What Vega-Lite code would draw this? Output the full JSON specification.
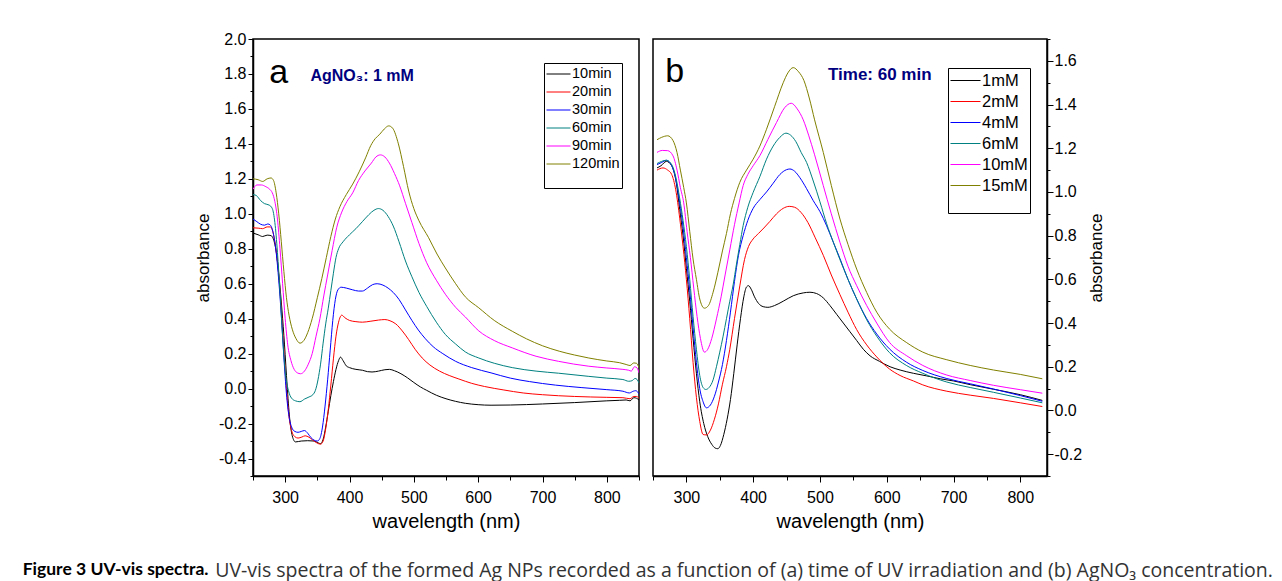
{
"$schema": "https://vega.github.io/schema/vega-lite/v6.json",
"background": "white",
"padding": {"left": 22, "top": 30, "right": 5, "bottom": 5},
"config": {
 "font": "Liberation Sans",
 "view": {"stroke": "black", "strokeWidth": 1.5},
 "axis": {"domainColor": "black", "domainWidth": 1.5, "tickColor": "black", "tickWidth": 1, "labelColor": "black", "titleColor": "black", "grid": false, "labelFont": "Liberation Sans", "titleFont": "Liberation Sans", "labelFontSize": 16, "titleFontWeight": "normal", "labelOverlap": false, "labelFlush": false}
},
"title": {"text": "Figure 3 UV-vis spectra.", "subtitle": "\u200b\u00a0\u00a0\u00a0\u00a0\u00a0\u00a0\u00a0\u00a0\u00a0\u00a0\u00a0\u00a0\u00a0\u00a0\u00a0\u00a0\u00a0\u00a0\u00a0\u00a0\u00a0\u00a0\u00a0\u00a0\u00a0\u00a0\u00a0\u00a0\u00a0\u00a0\u00a0\u00a0\u00a0\u00a0\u00a0\u00a0\u00a0\u00a0UV-vis spectra of the formed Ag NPs recorded as a function of (a) time of UV irradiation and (b) AgNO\u2083 concentration.", "orient": "bottom", "anchor": "start", "frame": "bounds", "font": "Lato", "fontSize": 17.5, "fontWeight": "bold", "color": "black", "subtitleFont": "Open Sans", "subtitleFontSize": 19.5, "subtitleFontWeight": "normal", "subtitleColor": "#333333", "subtitlePadding": -16, "offset": 29, "dx": -171},
"spacing": 10,
"resolve": {"scale": {"color": "independent"}, "legend": {"color": "independent"}},
"hconcat": [
 {
  "width": 386, "height": 437,
  "encoding": {
   "x": {"field": "w", "type": "quantitative", "scale": {"domain": [250, 850], "nice": false, "zero": false},
     "axis": {"title": "wavelength (nm)", "titleFontSize": 20, "values": [250,300,350,400,450,500,550,600,650,700,750,800,850], "labelExpr": "datum.value % 100 === 0 ? format(datum.value, 'd') : ''", "tickSize": {"condition": {"test": "datum.value % 100 === 0", "value": 6}, "value": 4}, "labelPadding": 7, "titlePadding": 6}},
   "y": {"field": "v", "type": "quantitative", "scale": {"domain": [-0.5, 2.0], "nice": false, "zero": false},
     "axis": {"title": "absorbance", "titleFontSize": 17, "values": [-0.5,-0.4,-0.3,-0.2,-0.1,0,0.1,0.2,0.3,0.4,0.5,0.6,0.7,0.8,0.9,1.0,1.1,1.2,1.3,1.4,1.5,1.6,1.7,1.8,1.9,2.0], "labelExpr": "round(datum.value*10) % 2 === 0 ? ((datum.value < -0.001 ? '-' : '') + format(abs(datum.value), '.1f')) : ''", "tickSize": {"condition": {"test": "round(datum.value*10) % 2 === 0", "value": 5}, "value": 3}, "labelPadding": 2, "titlePadding": 6}}
  },
  "layer": [
   {
    "data": {"values": [
{"w":250,"v":0.89,"s":"10min"},{"w":258,"v":0.88,"s":"10min"},{"w":265,"v":0.87,"s":"10min"},{"w":272,"v":0.878,"s":"10min"},{"w":278,"v":0.875,"s":"10min"},{"w":283,"v":0.84,"s":"10min"},{"w":287,"v":0.76,"s":"10min"},{"w":291,"v":0.62,"s":"10min"},{"w":295,"v":0.45,"s":"10min"},{"w":299,"v":0.25,"s":"10min"},{"w":303,"v":0.02,"s":"10min"},{"w":307,"v":-0.17,"s":"10min"},{"w":311,"v":-0.27,"s":"10min"},{"w":316,"v":-0.305,"s":"10min"},{"w":325,"v":-0.3,"s":"10min"},{"w":335,"v":-0.298,"s":"10min"},{"w":345,"v":-0.3,"s":"10min"},{"w":351,"v":-0.31,"s":"10min"},{"w":355,"v":-0.315,"s":"10min"},{"w":359,"v":-0.29,"s":"10min"},{"w":363,"v":-0.22,"s":"10min"},{"w":367,"v":-0.13,"s":"10min"},{"w":371,"v":-0.04,"s":"10min"},{"w":375,"v":0.04,"s":"10min"},{"w":379,"v":0.11,"s":"10min"},{"w":383,"v":0.16,"s":"10min"},{"w":386,"v":0.18,"s":"10min"},{"w":390,"v":0.16,"s":"10min"},{"w":395,"v":0.13,"s":"10min"},{"w":400,"v":0.12,"s":"10min"},{"w":410,"v":0.11,"s":"10min"},{"w":420,"v":0.105,"s":"10min"},{"w":428,"v":0.097,"s":"10min"},{"w":435,"v":0.095,"s":"10min"},{"w":445,"v":0.1,"s":"10min"},{"w":455,"v":0.108,"s":"10min"},{"w":462,"v":0.11,"s":"10min"},{"w":470,"v":0.102,"s":"10min"},{"w":480,"v":0.085,"s":"10min"},{"w":490,"v":0.062,"s":"10min"},{"w":500,"v":0.035,"s":"10min"},{"w":510,"v":0.01,"s":"10min"},{"w":520,"v":-0.01,"s":"10min"},{"w":535,"v":-0.038,"s":"10min"},{"w":550,"v":-0.058,"s":"10min"},{"w":565,"v":-0.073,"s":"10min"},{"w":580,"v":-0.084,"s":"10min"},{"w":600,"v":-0.092,"s":"10min"},{"w":620,"v":-0.095,"s":"10min"},{"w":650,"v":-0.094,"s":"10min"},{"w":700,"v":-0.088,"s":"10min"},{"w":750,"v":-0.08,"s":"10min"},{"w":800,"v":-0.07,"s":"10min"},{"w":820,"v":-0.067,"s":"10min"},{"w":830,"v":-0.065,"s":"10min"},{"w":836,"v":-0.07,"s":"10min"},{"w":842,"v":-0.052,"s":"10min"},{"w":846,"v":-0.055,"s":"10min"},{"w":850,"v":-0.065,"s":"10min"},
{"w":250,"v":0.92,"s":"20min"},{"w":258,"v":0.918,"s":"20min"},{"w":265,"v":0.915,"s":"20min"},{"w":272,"v":0.925,"s":"20min"},{"w":277,"v":0.925,"s":"20min"},{"w":282,"v":0.88,"s":"20min"},{"w":286,"v":0.79,"s":"20min"},{"w":290,"v":0.65,"s":"20min"},{"w":294,"v":0.45,"s":"20min"},{"w":298,"v":0.22,"s":"20min"},{"w":302,"v":0.0,"s":"20min"},{"w":306,"v":-0.16,"s":"20min"},{"w":310,"v":-0.24,"s":"20min"},{"w":315,"v":-0.275,"s":"20min"},{"w":320,"v":-0.283,"s":"20min"},{"w":326,"v":-0.277,"s":"20min"},{"w":331,"v":-0.27,"s":"20min"},{"w":337,"v":-0.278,"s":"20min"},{"w":343,"v":-0.295,"s":"20min"},{"w":349,"v":-0.31,"s":"20min"},{"w":355,"v":-0.318,"s":"20min"},{"w":359,"v":-0.3,"s":"20min"},{"w":363,"v":-0.23,"s":"20min"},{"w":367,"v":-0.12,"s":"20min"},{"w":371,"v":0.02,"s":"20min"},{"w":375,"v":0.17,"s":"20min"},{"w":379,"v":0.3,"s":"20min"},{"w":383,"v":0.38,"s":"20min"},{"w":388,"v":0.42,"s":"20min"},{"w":393,"v":0.405,"s":"20min"},{"w":400,"v":0.39,"s":"20min"},{"w":410,"v":0.383,"s":"20min"},{"w":420,"v":0.38,"s":"20min"},{"w":432,"v":0.385,"s":"20min"},{"w":445,"v":0.392,"s":"20min"},{"w":455,"v":0.395,"s":"20min"},{"w":463,"v":0.388,"s":"20min"},{"w":472,"v":0.37,"s":"20min"},{"w":482,"v":0.33,"s":"20min"},{"w":492,"v":0.28,"s":"20min"},{"w":502,"v":0.225,"s":"20min"},{"w":513,"v":0.175,"s":"20min"},{"w":525,"v":0.135,"s":"20min"},{"w":540,"v":0.1,"s":"20min"},{"w":555,"v":0.075,"s":"20min"},{"w":570,"v":0.055,"s":"20min"},{"w":590,"v":0.03,"s":"20min"},{"w":610,"v":0.012,"s":"20min"},{"w":640,"v":-0.008,"s":"20min"},{"w":670,"v":-0.025,"s":"20min"},{"w":700,"v":-0.035,"s":"20min"},{"w":750,"v":-0.045,"s":"20min"},{"w":800,"v":-0.05,"s":"20min"},{"w":825,"v":-0.052,"s":"20min"},{"w":836,"v":-0.058,"s":"20min"},{"w":842,"v":-0.045,"s":"20min"},{"w":846,"v":-0.045,"s":"20min"},{"w":850,"v":-0.055,"s":"20min"},
{"w":250,"v":0.97,"s":"30min"},{"w":256,"v":0.955,"s":"30min"},{"w":262,"v":0.94,"s":"30min"},{"w":268,"v":0.935,"s":"30min"},{"w":273,"v":0.942,"s":"30min"},{"w":277,"v":0.935,"s":"30min"},{"w":282,"v":0.88,"s":"30min"},{"w":286,"v":0.78,"s":"30min"},{"w":290,"v":0.62,"s":"30min"},{"w":294,"v":0.42,"s":"30min"},{"w":298,"v":0.18,"s":"30min"},{"w":302,"v":-0.03,"s":"30min"},{"w":306,"v":-0.16,"s":"30min"},{"w":310,"v":-0.22,"s":"30min"},{"w":315,"v":-0.245,"s":"30min"},{"w":320,"v":-0.25,"s":"30min"},{"w":325,"v":-0.245,"s":"30min"},{"w":330,"v":-0.24,"s":"30min"},{"w":335,"v":-0.255,"s":"30min"},{"w":340,"v":-0.28,"s":"30min"},{"w":345,"v":-0.295,"s":"30min"},{"w":350,"v":-0.3,"s":"30min"},{"w":354,"v":-0.285,"s":"30min"},{"w":358,"v":-0.22,"s":"30min"},{"w":362,"v":-0.1,"s":"30min"},{"w":366,"v":0.05,"s":"30min"},{"w":370,"v":0.22,"s":"30min"},{"w":374,"v":0.39,"s":"30min"},{"w":378,"v":0.51,"s":"30min"},{"w":382,"v":0.565,"s":"30min"},{"w":387,"v":0.58,"s":"30min"},{"w":395,"v":0.575,"s":"30min"},{"w":405,"v":0.565,"s":"30min"},{"w":414,"v":0.558,"s":"30min"},{"w":420,"v":0.558,"s":"30min"},{"w":428,"v":0.575,"s":"30min"},{"w":436,"v":0.595,"s":"30min"},{"w":443,"v":0.6,"s":"30min"},{"w":452,"v":0.592,"s":"30min"},{"w":460,"v":0.575,"s":"30min"},{"w":468,"v":0.55,"s":"30min"},{"w":477,"v":0.51,"s":"30min"},{"w":487,"v":0.45,"s":"30min"},{"w":497,"v":0.39,"s":"30min"},{"w":507,"v":0.335,"s":"30min"},{"w":518,"v":0.285,"s":"30min"},{"w":530,"v":0.24,"s":"30min"},{"w":545,"v":0.2,"s":"30min"},{"w":565,"v":0.156,"s":"30min"},{"w":590,"v":0.12,"s":"30min"},{"w":620,"v":0.09,"s":"30min"},{"w":650,"v":0.06,"s":"30min"},{"w":680,"v":0.04,"s":"30min"},{"w":720,"v":0.02,"s":"30min"},{"w":760,"v":0.006,"s":"30min"},{"w":800,"v":-0.006,"s":"30min"},{"w":825,"v":-0.015,"s":"30min"},{"w":835,"v":-0.025,"s":"30min"},{"w":841,"v":-0.015,"s":"30min"},{"w":845,"v":-0.012,"s":"30min"},{"w":850,"v":-0.03,"s":"30min"},
{"w":250,"v":1.11,"s":"60min"},{"w":255,"v":1.105,"s":"60min"},{"w":262,"v":1.075,"s":"60min"},{"w":268,"v":1.058,"s":"60min"},{"w":275,"v":1.05,"s":"60min"},{"w":280,"v":1.03,"s":"60min"},{"w":284,"v":0.95,"s":"60min"},{"w":288,"v":0.78,"s":"60min"},{"w":292,"v":0.55,"s":"60min"},{"w":296,"v":0.3,"s":"60min"},{"w":300,"v":0.1,"s":"60min"},{"w":305,"v":-0.01,"s":"60min"},{"w":310,"v":-0.055,"s":"60min"},{"w":316,"v":-0.07,"s":"60min"},{"w":323,"v":-0.075,"s":"60min"},{"w":330,"v":-0.06,"s":"60min"},{"w":337,"v":-0.048,"s":"60min"},{"w":343,"v":-0.035,"s":"60min"},{"w":347,"v":-0.01,"s":"60min"},{"w":351,"v":0.05,"s":"60min"},{"w":355,"v":0.14,"s":"60min"},{"w":359,"v":0.26,"s":"60min"},{"w":363,"v":0.37,"s":"60min"},{"w":367,"v":0.46,"s":"60min"},{"w":371,"v":0.56,"s":"60min"},{"w":375,"v":0.66,"s":"60min"},{"w":379,"v":0.75,"s":"60min"},{"w":383,"v":0.8,"s":"60min"},{"w":390,"v":0.84,"s":"60min"},{"w":400,"v":0.88,"s":"60min"},{"w":410,"v":0.915,"s":"60min"},{"w":420,"v":0.955,"s":"60min"},{"w":430,"v":0.995,"s":"60min"},{"w":438,"v":1.02,"s":"60min"},{"w":445,"v":1.03,"s":"60min"},{"w":452,"v":1.02,"s":"60min"},{"w":460,"v":0.985,"s":"60min"},{"w":468,"v":0.93,"s":"60min"},{"w":477,"v":0.84,"s":"60min"},{"w":487,"v":0.73,"s":"60min"},{"w":497,"v":0.64,"s":"60min"},{"w":508,"v":0.55,"s":"60min"},{"w":520,"v":0.47,"s":"60min"},{"w":535,"v":0.38,"s":"60min"},{"w":549,"v":0.31,"s":"60min"},{"w":565,"v":0.255,"s":"60min"},{"w":580,"v":0.21,"s":"60min"},{"w":601,"v":0.175,"s":"60min"},{"w":625,"v":0.145,"s":"60min"},{"w":653,"v":0.12,"s":"60min"},{"w":690,"v":0.1,"s":"60min"},{"w":725,"v":0.088,"s":"60min"},{"w":772,"v":0.07,"s":"60min"},{"w":800,"v":0.06,"s":"60min"},{"w":825,"v":0.052,"s":"60min"},{"w":834,"v":0.042,"s":"60min"},{"w":839,"v":0.045,"s":"60min"},{"w":844,"v":0.058,"s":"60min"},{"w":847,"v":0.052,"s":"60min"},{"w":850,"v":0.032,"s":"60min"},
{"w":250,"v":1.14,"s":"90min"},{"w":256,"v":1.165,"s":"90min"},{"w":263,"v":1.165,"s":"90min"},{"w":270,"v":1.155,"s":"90min"},{"w":276,"v":1.14,"s":"90min"},{"w":280,"v":1.12,"s":"90min"},{"w":284,"v":1.07,"s":"90min"},{"w":288,"v":0.97,"s":"90min"},{"w":292,"v":0.8,"s":"90min"},{"w":296,"v":0.6,"s":"90min"},{"w":300,"v":0.4,"s":"90min"},{"w":304,"v":0.25,"s":"90min"},{"w":309,"v":0.16,"s":"90min"},{"w":314,"v":0.11,"s":"90min"},{"w":319,"v":0.09,"s":"90min"},{"w":324,"v":0.085,"s":"90min"},{"w":330,"v":0.1,"s":"90min"},{"w":336,"v":0.14,"s":"90min"},{"w":342,"v":0.2,"s":"90min"},{"w":348,"v":0.3,"s":"90min"},{"w":354,"v":0.4,"s":"90min"},{"w":360,"v":0.53,"s":"90min"},{"w":366,"v":0.65,"s":"90min"},{"w":373,"v":0.79,"s":"90min"},{"w":380,"v":0.92,"s":"90min"},{"w":388,"v":1.01,"s":"90min"},{"w":396,"v":1.07,"s":"90min"},{"w":405,"v":1.12,"s":"90min"},{"w":414,"v":1.19,"s":"90min"},{"w":424,"v":1.245,"s":"90min"},{"w":434,"v":1.29,"s":"90min"},{"w":441,"v":1.325,"s":"90min"},{"w":448,"v":1.337,"s":"90min"},{"w":455,"v":1.325,"s":"90min"},{"w":462,"v":1.29,"s":"90min"},{"w":470,"v":1.23,"s":"90min"},{"w":478,"v":1.16,"s":"90min"},{"w":487,"v":1.06,"s":"90min"},{"w":497,"v":0.95,"s":"90min"},{"w":508,"v":0.83,"s":"90min"},{"w":520,"v":0.72,"s":"90min"},{"w":535,"v":0.62,"s":"90min"},{"w":549,"v":0.54,"s":"90min"},{"w":565,"v":0.465,"s":"90min"},{"w":580,"v":0.41,"s":"90min"},{"w":601,"v":0.33,"s":"90min"},{"w":625,"v":0.275,"s":"90min"},{"w":653,"v":0.233,"s":"90min"},{"w":690,"v":0.185,"s":"90min"},{"w":725,"v":0.156,"s":"90min"},{"w":772,"v":0.128,"s":"90min"},{"w":800,"v":0.118,"s":"90min"},{"w":825,"v":0.11,"s":"90min"},{"w":834,"v":0.105,"s":"90min"},{"w":838,"v":0.1,"s":"90min"},{"w":843,"v":0.125,"s":"90min"},{"w":847,"v":0.118,"s":"90min"},{"w":850,"v":0.09,"s":"90min"},
{"w":250,"v":1.2,"s":"120min"},{"w":258,"v":1.195,"s":"120min"},{"w":265,"v":1.185,"s":"120min"},{"w":272,"v":1.2,"s":"120min"},{"w":278,"v":1.205,"s":"120min"},{"w":282,"v":1.19,"s":"120min"},{"w":286,"v":1.12,"s":"120min"},{"w":290,"v":1.0,"s":"120min"},{"w":294,"v":0.84,"s":"120min"},{"w":298,"v":0.67,"s":"120min"},{"w":302,"v":0.52,"s":"120min"},{"w":306,"v":0.42,"s":"120min"},{"w":311,"v":0.34,"s":"120min"},{"w":317,"v":0.285,"s":"120min"},{"w":323,"v":0.26,"s":"120min"},{"w":329,"v":0.275,"s":"120min"},{"w":335,"v":0.32,"s":"120min"},{"w":342,"v":0.4,"s":"120min"},{"w":350,"v":0.52,"s":"120min"},{"w":357,"v":0.63,"s":"120min"},{"w":364,"v":0.75,"s":"120min"},{"w":371,"v":0.87,"s":"120min"},{"w":378,"v":0.97,"s":"120min"},{"w":385,"v":1.04,"s":"120min"},{"w":395,"v":1.11,"s":"120min"},{"w":405,"v":1.17,"s":"120min"},{"w":415,"v":1.24,"s":"120min"},{"w":425,"v":1.32,"s":"120min"},{"w":433,"v":1.39,"s":"120min"},{"w":440,"v":1.43,"s":"120min"},{"w":447,"v":1.455,"s":"120min"},{"w":454,"v":1.485,"s":"120min"},{"w":461,"v":1.503,"s":"120min"},{"w":467,"v":1.49,"s":"120min"},{"w":476,"v":1.4,"s":"120min"},{"w":484,"v":1.27,"s":"120min"},{"w":492,"v":1.13,"s":"120min"},{"w":500,"v":1.03,"s":"120min"},{"w":508,"v":0.96,"s":"120min"},{"w":523,"v":0.863,"s":"120min"},{"w":536,"v":0.77,"s":"120min"},{"w":549,"v":0.69,"s":"120min"},{"w":565,"v":0.6,"s":"120min"},{"w":580,"v":0.525,"s":"120min"},{"w":601,"v":0.462,"s":"120min"},{"w":625,"v":0.39,"s":"120min"},{"w":653,"v":0.328,"s":"120min"},{"w":675,"v":0.285,"s":"120min"},{"w":700,"v":0.245,"s":"120min"},{"w":726,"v":0.214,"s":"120min"},{"w":750,"v":0.192,"s":"120min"},{"w":772,"v":0.175,"s":"120min"},{"w":800,"v":0.158,"s":"120min"},{"w":820,"v":0.148,"s":"120min"},{"w":830,"v":0.138,"s":"120min"},{"w":836,"v":0.132,"s":"120min"},{"w":842,"v":0.147,"s":"120min"},{"w":846,"v":0.145,"s":"120min"},{"w":850,"v":0.12,"s":"120min"}
    ]},
    "mark": {"type": "line", "strokeWidth": 1, "interpolate": "monotone", "clip": true},
    "encoding": {
     "color": {"field": "s", "type": "nominal", "scale": {"domain": ["10min","20min","30min","60min","90min","120min"], "range": ["#000000","#ff0000","#0000ff","#008080","#ff00ff","#808000"]},
       "legend": {"orient": "none", "legendX": 291, "legendY": 24, "title": " ", "titleOrient": "bottom", "titleFontSize": 12.5, "titlePadding": 0, "symbolType": "stroke", "symbolSize": 576, "symbolStrokeWidth": 1, "labelFontSize": 14.5, "labelFont": "Liberation Sans", "labelColor": "black", "labelOffset": 1, "strokeColor": "black", "padding": 2, "rowPadding": 0, "clipHeight": 18}}
    }
   },
   {
    "data": {"values": [{"w": 290, "v": 1.751, "t": "a"}]},
    "mark": {"type": "text", "align": "center", "baseline": "alphabetic", "fontSize": 34, "color": "black", "font": "Liberation Sans"},
    "encoding": {"text": {"field": "t"}}
   },
   {
    "data": {"values": [{"w": 339.3, "v": 1.761, "t": "AgNO\u2083: 1 mM"}]},
    "mark": {"type": "text", "align": "left", "baseline": "alphabetic", "fontSize": 16, "fontWeight": "bold", "color": "#000080", "font": "Liberation Sans"},
    "encoding": {"text": {"field": "t"}}
   }
  ]
 },
 {
  "width": 394, "height": 437,
  "encoding": {
   "x": {"field": "w", "type": "quantitative", "scale": {"domain": [250, 840], "nice": false, "zero": false},
     "axis": {"title": "wavelength (nm)", "titleFontSize": 20, "values": [250,300,350,400,450,500,550,600,650,700,750,800], "labelExpr": "datum.value % 100 === 0 ? format(datum.value, 'd') : ''", "tickSize": {"condition": {"test": "datum.value % 100 === 0", "value": 6}, "value": 4}, "labelPadding": 7, "titlePadding": 6}},
   "y": {"field": "v", "type": "quantitative", "scale": {"domain": [-0.3, 1.7], "nice": false, "zero": false},
     "axis": {"orient": "right", "title": "absorbance", "titleAngle": 270, "titleFontSize": 17, "values": [-0.3,-0.2,-0.1,0,0.1,0.2,0.3,0.4,0.5,0.6,0.7,0.8,0.9,1.0,1.1,1.2,1.3,1.4,1.5,1.6,1.7], "labelExpr": "round(datum.value*10) % 2 === 0 ? ((datum.value < -0.001 ? '-' : '') + format(abs(datum.value), '.1f')) : ''", "tickSize": {"condition": {"test": "round(datum.value*10) % 2 === 0", "value": 6}, "value": 3}, "labelPadding": 1, "titlePadding": 24}}
  },
  "layer": [
   {
    "data": {"values": [
{"w":256,"v":1.11,"s":"1mM"},{"w":262,"v":1.12,"s":"1mM"},{"w":270,"v":1.14,"s":"1mM"},{"w":278,"v":1.12,"s":"1mM"},{"w":285,"v":1.04,"s":"1mM"},{"w":290,"v":0.92,"s":"1mM"},{"w":295,"v":0.8,"s":"1mM"},{"w":300,"v":0.65,"s":"1mM"},{"w":305,"v":0.5,"s":"1mM"},{"w":310,"v":0.33,"s":"1mM"},{"w":315,"v":0.17,"s":"1mM"},{"w":320,"v":0.04,"s":"1mM"},{"w":326,"v":-0.06,"s":"1mM"},{"w":332,"v":-0.12,"s":"1mM"},{"w":338,"v":-0.155,"s":"1mM"},{"w":343,"v":-0.172,"s":"1mM"},{"w":347,"v":-0.175,"s":"1mM"},{"w":351,"v":-0.16,"s":"1mM"},{"w":356,"v":-0.11,"s":"1mM"},{"w":361,"v":-0.04,"s":"1mM"},{"w":366,"v":0.05,"s":"1mM"},{"w":371,"v":0.17,"s":"1mM"},{"w":376,"v":0.3,"s":"1mM"},{"w":381,"v":0.42,"s":"1mM"},{"w":386,"v":0.52,"s":"1mM"},{"w":390,"v":0.565,"s":"1mM"},{"w":393,"v":0.571,"s":"1mM"},{"w":397,"v":0.555,"s":"1mM"},{"w":402,"v":0.52,"s":"1mM"},{"w":408,"v":0.49,"s":"1mM"},{"w":415,"v":0.475,"s":"1mM"},{"w":422,"v":0.472,"s":"1mM"},{"w":432,"v":0.48,"s":"1mM"},{"w":445,"v":0.5,"s":"1mM"},{"w":460,"v":0.525,"s":"1mM"},{"w":475,"v":0.538,"s":"1mM"},{"w":485,"v":0.541,"s":"1mM"},{"w":495,"v":0.535,"s":"1mM"},{"w":505,"v":0.515,"s":"1mM"},{"w":515,"v":0.48,"s":"1mM"},{"w":525,"v":0.44,"s":"1mM"},{"w":535,"v":0.4,"s":"1mM"},{"w":545,"v":0.36,"s":"1mM"},{"w":555,"v":0.32,"s":"1mM"},{"w":565,"v":0.28,"s":"1mM"},{"w":575,"v":0.25,"s":"1mM"},{"w":589,"v":0.225,"s":"1mM"},{"w":605,"v":0.2,"s":"1mM"},{"w":620,"v":0.185,"s":"1mM"},{"w":640,"v":0.17,"s":"1mM"},{"w":660,"v":0.158,"s":"1mM"},{"w":680,"v":0.145,"s":"1mM"},{"w":700,"v":0.135,"s":"1mM"},{"w":725,"v":0.118,"s":"1mM"},{"w":760,"v":0.097,"s":"1mM"},{"w":800,"v":0.072,"s":"1mM"},{"w":833,"v":0.046,"s":"1mM"},
{"w":256,"v":1.1,"s":"2mM"},{"w":265,"v":1.11,"s":"2mM"},{"w":272,"v":1.1,"s":"2mM"},{"w":278,"v":1.08,"s":"2mM"},{"w":284,"v":1.01,"s":"2mM"},{"w":290,"v":0.88,"s":"2mM"},{"w":295,"v":0.75,"s":"2mM"},{"w":300,"v":0.6,"s":"2mM"},{"w":305,"v":0.42,"s":"2mM"},{"w":310,"v":0.22,"s":"2mM"},{"w":315,"v":0.06,"s":"2mM"},{"w":320,"v":-0.05,"s":"2mM"},{"w":325,"v":-0.11,"s":"2mM"},{"w":330,"v":-0.112,"s":"2mM"},{"w":336,"v":-0.09,"s":"2mM"},{"w":342,"v":-0.04,"s":"2mM"},{"w":348,"v":0.03,"s":"2mM"},{"w":354,"v":0.12,"s":"2mM"},{"w":360,"v":0.2,"s":"2mM"},{"w":365,"v":0.28,"s":"2mM"},{"w":372,"v":0.42,"s":"2mM"},{"w":380,"v":0.57,"s":"2mM"},{"w":387,"v":0.69,"s":"2mM"},{"w":393,"v":0.75,"s":"2mM"},{"w":400,"v":0.785,"s":"2mM"},{"w":408,"v":0.81,"s":"2mM"},{"w":416,"v":0.835,"s":"2mM"},{"w":425,"v":0.865,"s":"2mM"},{"w":435,"v":0.9,"s":"2mM"},{"w":445,"v":0.925,"s":"2mM"},{"w":454,"v":0.934,"s":"2mM"},{"w":462,"v":0.93,"s":"2mM"},{"w":472,"v":0.905,"s":"2mM"},{"w":482,"v":0.86,"s":"2mM"},{"w":493,"v":0.79,"s":"2mM"},{"w":505,"v":0.71,"s":"2mM"},{"w":517,"v":0.62,"s":"2mM"},{"w":530,"v":0.53,"s":"2mM"},{"w":542,"v":0.45,"s":"2mM"},{"w":555,"v":0.37,"s":"2mM"},{"w":570,"v":0.3,"s":"2mM"},{"w":585,"v":0.245,"s":"2mM"},{"w":604,"v":0.19,"s":"2mM"},{"w":620,"v":0.16,"s":"2mM"},{"w":640,"v":0.135,"s":"2mM"},{"w":654,"v":0.117,"s":"2mM"},{"w":690,"v":0.088,"s":"2mM"},{"w":725,"v":0.07,"s":"2mM"},{"w":760,"v":0.055,"s":"2mM"},{"w":800,"v":0.035,"s":"2mM"},{"w":833,"v":0.018,"s":"2mM"},
{"w":256,"v":1.125,"s":"4mM"},{"w":263,"v":1.135,"s":"4mM"},{"w":270,"v":1.145,"s":"4mM"},{"w":278,"v":1.12,"s":"4mM"},{"w":284,"v":1.06,"s":"4mM"},{"w":290,"v":0.95,"s":"4mM"},{"w":295,"v":0.84,"s":"4mM"},{"w":300,"v":0.7,"s":"4mM"},{"w":305,"v":0.55,"s":"4mM"},{"w":310,"v":0.38,"s":"4mM"},{"w":315,"v":0.22,"s":"4mM"},{"w":320,"v":0.1,"s":"4mM"},{"w":325,"v":0.04,"s":"4mM"},{"w":330,"v":0.012,"s":"4mM"},{"w":336,"v":0.025,"s":"4mM"},{"w":342,"v":0.065,"s":"4mM"},{"w":348,"v":0.13,"s":"4mM"},{"w":354,"v":0.21,"s":"4mM"},{"w":360,"v":0.32,"s":"4mM"},{"w":366,"v":0.45,"s":"4mM"},{"w":372,"v":0.59,"s":"4mM"},{"w":378,"v":0.71,"s":"4mM"},{"w":385,"v":0.8,"s":"4mM"},{"w":392,"v":0.87,"s":"4mM"},{"w":400,"v":0.925,"s":"4mM"},{"w":410,"v":0.965,"s":"4mM"},{"w":420,"v":1.0,"s":"4mM"},{"w":430,"v":1.04,"s":"4mM"},{"w":440,"v":1.08,"s":"4mM"},{"w":450,"v":1.102,"s":"4mM"},{"w":455,"v":1.105,"s":"4mM"},{"w":462,"v":1.095,"s":"4mM"},{"w":470,"v":1.065,"s":"4mM"},{"w":480,"v":1.015,"s":"4mM"},{"w":490,"v":0.96,"s":"4mM"},{"w":500,"v":0.91,"s":"4mM"},{"w":510,"v":0.845,"s":"4mM"},{"w":520,"v":0.77,"s":"4mM"},{"w":530,"v":0.695,"s":"4mM"},{"w":542,"v":0.6,"s":"4mM"},{"w":555,"v":0.51,"s":"4mM"},{"w":570,"v":0.42,"s":"4mM"},{"w":585,"v":0.35,"s":"4mM"},{"w":604,"v":0.282,"s":"4mM"},{"w":630,"v":0.22,"s":"4mM"},{"w":654,"v":0.183,"s":"4mM"},{"w":690,"v":0.146,"s":"4mM"},{"w":725,"v":0.122,"s":"4mM"},{"w":760,"v":0.098,"s":"4mM"},{"w":800,"v":0.068,"s":"4mM"},{"w":833,"v":0.042,"s":"4mM"},
{"w":256,"v":1.13,"s":"6mM"},{"w":263,"v":1.14,"s":"6mM"},{"w":270,"v":1.145,"s":"6mM"},{"w":278,"v":1.125,"s":"6mM"},{"w":284,"v":1.07,"s":"6mM"},{"w":290,"v":0.97,"s":"6mM"},{"w":295,"v":0.87,"s":"6mM"},{"w":300,"v":0.75,"s":"6mM"},{"w":305,"v":0.6,"s":"6mM"},{"w":310,"v":0.43,"s":"6mM"},{"w":315,"v":0.28,"s":"6mM"},{"w":320,"v":0.16,"s":"6mM"},{"w":325,"v":0.105,"s":"6mM"},{"w":329,"v":0.096,"s":"6mM"},{"w":334,"v":0.105,"s":"6mM"},{"w":340,"v":0.14,"s":"6mM"},{"w":345,"v":0.2,"s":"6mM"},{"w":350,"v":0.267,"s":"6mM"},{"w":355,"v":0.34,"s":"6mM"},{"w":360,"v":0.42,"s":"6mM"},{"w":365,"v":0.5,"s":"6mM"},{"w":370,"v":0.575,"s":"6mM"},{"w":375,"v":0.67,"s":"6mM"},{"w":380,"v":0.76,"s":"6mM"},{"w":385,"v":0.846,"s":"6mM"},{"w":392,"v":0.93,"s":"6mM"},{"w":400,"v":0.998,"s":"6mM"},{"w":410,"v":1.07,"s":"6mM"},{"w":420,"v":1.15,"s":"6mM"},{"w":430,"v":1.21,"s":"6mM"},{"w":440,"v":1.25,"s":"6mM"},{"w":449,"v":1.269,"s":"6mM"},{"w":456,"v":1.26,"s":"6mM"},{"w":464,"v":1.23,"s":"6mM"},{"w":472,"v":1.18,"s":"6mM"},{"w":480,"v":1.135,"s":"6mM"},{"w":490,"v":1.05,"s":"6mM"},{"w":500,"v":0.955,"s":"6mM"},{"w":510,"v":0.855,"s":"6mM"},{"w":520,"v":0.77,"s":"6mM"},{"w":530,"v":0.69,"s":"6mM"},{"w":542,"v":0.6,"s":"6mM"},{"w":555,"v":0.51,"s":"6mM"},{"w":570,"v":0.415,"s":"6mM"},{"w":585,"v":0.34,"s":"6mM"},{"w":604,"v":0.265,"s":"6mM"},{"w":630,"v":0.205,"s":"6mM"},{"w":654,"v":0.17,"s":"6mM"},{"w":690,"v":0.13,"s":"6mM"},{"w":725,"v":0.105,"s":"6mM"},{"w":760,"v":0.083,"s":"6mM"},{"w":800,"v":0.057,"s":"6mM"},{"w":833,"v":0.035,"s":"6mM"},
{"w":256,"v":1.181,"s":"10mM"},{"w":264,"v":1.19,"s":"10mM"},{"w":272,"v":1.189,"s":"10mM"},{"w":280,"v":1.165,"s":"10mM"},{"w":286,"v":1.1,"s":"10mM"},{"w":291,"v":1.02,"s":"10mM"},{"w":296,"v":0.95,"s":"10mM"},{"w":301,"v":0.82,"s":"10mM"},{"w":306,"v":0.7,"s":"10mM"},{"w":311,"v":0.56,"s":"10mM"},{"w":316,"v":0.43,"s":"10mM"},{"w":321,"v":0.33,"s":"10mM"},{"w":327,"v":0.267,"s":"10mM"},{"w":332,"v":0.28,"s":"10mM"},{"w":338,"v":0.33,"s":"10mM"},{"w":345,"v":0.419,"s":"10mM"},{"w":352,"v":0.52,"s":"10mM"},{"w":358,"v":0.62,"s":"10mM"},{"w":365,"v":0.735,"s":"10mM"},{"w":372,"v":0.85,"s":"10mM"},{"w":379,"v":0.95,"s":"10mM"},{"w":385,"v":1.029,"s":"10mM"},{"w":392,"v":1.08,"s":"10mM"},{"w":400,"v":1.12,"s":"10mM"},{"w":410,"v":1.166,"s":"10mM"},{"w":422,"v":1.24,"s":"10mM"},{"w":435,"v":1.318,"s":"10mM"},{"w":447,"v":1.385,"s":"10mM"},{"w":457,"v":1.406,"s":"10mM"},{"w":466,"v":1.38,"s":"10mM"},{"w":475,"v":1.33,"s":"10mM"},{"w":483,"v":1.26,"s":"10mM"},{"w":492,"v":1.17,"s":"10mM"},{"w":505,"v":1.029,"s":"10mM"},{"w":517,"v":0.9,"s":"10mM"},{"w":530,"v":0.769,"s":"10mM"},{"w":542,"v":0.66,"s":"10mM"},{"w":555,"v":0.571,"s":"10mM"},{"w":570,"v":0.48,"s":"10mM"},{"w":585,"v":0.4,"s":"10mM"},{"w":604,"v":0.312,"s":"10mM"},{"w":630,"v":0.25,"s":"10mM"},{"w":654,"v":0.206,"s":"10mM"},{"w":690,"v":0.162,"s":"10mM"},{"w":725,"v":0.137,"s":"10mM"},{"w":760,"v":0.115,"s":"10mM"},{"w":800,"v":0.095,"s":"10mM"},{"w":833,"v":0.079,"s":"10mM"},
{"w":256,"v":1.239,"s":"15mM"},{"w":263,"v":1.25,"s":"15mM"},{"w":272,"v":1.257,"s":"15mM"},{"w":280,"v":1.235,"s":"15mM"},{"w":286,"v":1.18,"s":"15mM"},{"w":291,"v":1.1,"s":"15mM"},{"w":296,"v":1.02,"s":"15mM"},{"w":300,"v":0.95,"s":"15mM"},{"w":305,"v":0.82,"s":"15mM"},{"w":310,"v":0.693,"s":"15mM"},{"w":315,"v":0.6,"s":"15mM"},{"w":320,"v":0.51,"s":"15mM"},{"w":327,"v":0.468,"s":"15mM"},{"w":333,"v":0.48,"s":"15mM"},{"w":340,"v":0.541,"s":"15mM"},{"w":347,"v":0.63,"s":"15mM"},{"w":354,"v":0.73,"s":"15mM"},{"w":360,"v":0.81,"s":"15mM"},{"w":366,"v":0.9,"s":"15mM"},{"w":372,"v":0.97,"s":"15mM"},{"w":380,"v":1.044,"s":"15mM"},{"w":390,"v":1.1,"s":"15mM"},{"w":400,"v":1.15,"s":"15mM"},{"w":410,"v":1.21,"s":"15mM"},{"w":420,"v":1.287,"s":"15mM"},{"w":432,"v":1.39,"s":"15mM"},{"w":445,"v":1.5,"s":"15mM"},{"w":452,"v":1.545,"s":"15mM"},{"w":460,"v":1.569,"s":"15mM"},{"w":468,"v":1.55,"s":"15mM"},{"w":476,"v":1.51,"s":"15mM"},{"w":484,"v":1.43,"s":"15mM"},{"w":492,"v":1.33,"s":"15mM"},{"w":505,"v":1.181,"s":"15mM"},{"w":517,"v":1.03,"s":"15mM"},{"w":530,"v":0.876,"s":"15mM"},{"w":542,"v":0.76,"s":"15mM"},{"w":555,"v":0.647,"s":"15mM"},{"w":570,"v":0.54,"s":"15mM"},{"w":585,"v":0.45,"s":"15mM"},{"w":604,"v":0.373,"s":"15mM"},{"w":630,"v":0.31,"s":"15mM"},{"w":654,"v":0.267,"s":"15mM"},{"w":690,"v":0.232,"s":"15mM"},{"w":725,"v":0.206,"s":"15mM"},{"w":760,"v":0.185,"s":"15mM"},{"w":800,"v":0.165,"s":"15mM"},{"w":833,"v":0.145,"s":"15mM"}
    ]},
    "mark": {"type": "line", "strokeWidth": 1, "interpolate": "monotone", "clip": true},
    "encoding": {
     "color": {"field": "s", "type": "nominal", "scale": {"domain": ["1mM","2mM","4mM","6mM","10mM","15mM"], "range": ["#000000","#ff0000","#0000ff","#008080","#ff00ff","#808000"]},
       "legend": {"orient": "none", "legendX": 295, "legendY": 29, "title": " ", "titleOrient": "bottom", "titleFontSize": 15, "titlePadding": 0, "symbolType": "stroke", "symbolSize": 900, "symbolStrokeWidth": 1, "labelFontSize": 16.5, "labelFont": "Liberation Sans", "labelColor": "black", "labelOffset": 1, "strokeColor": "black", "padding": 2, "rowPadding": 0, "clipHeight": 21}}
    }
   },
   {
    "data": {"values": [{"w": 282.5, "v": 1.501, "t": "b"}]},
    "mark": {"type": "text", "align": "center", "baseline": "alphabetic", "fontSize": 34, "color": "black", "font": "Liberation Sans"},
    "encoding": {"text": {"field": "t"}}
   },
   {
    "data": {"values": [{"w": 512, "v": 1.513, "t": "Time: 60 min"}]},
    "mark": {"type": "text", "align": "left", "baseline": "alphabetic", "fontSize": 17, "fontWeight": "bold", "color": "#000080", "font": "Liberation Sans"},
    "encoding": {"text": {"field": "t"}}
   }
  ]
 }
]
}
